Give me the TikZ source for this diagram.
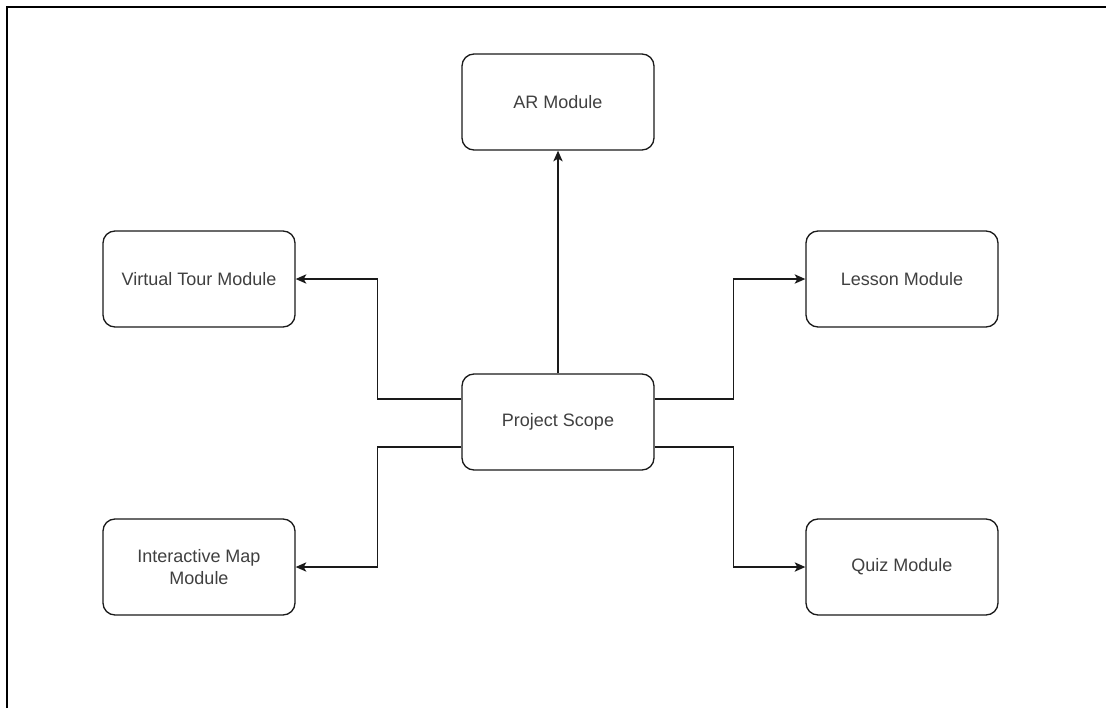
\documentclass[tikz,border=0pt]{standalone}
\usepackage{fontspec}
\setmainfont{Liberation Sans}
\usepackage{tikz}
\usetikzlibrary{positioning,calc,arrows.meta}
\definecolor{ScopeLine}{HTML}{1A1A1A}
\definecolor{ScopeText}{HTML}{404040}

\begin{document}
\begin{tikzpicture}[x=0.75pt, y=-0.75pt,
  module/.style={draw=ScopeLine, line width=1pt, rounded corners=9pt,
    minimum width=144pt, minimum height=72pt, align=center,
    font=\fontsize{13.5}{16}\selectfont, text=ScopeText, fill=white},
  link/.style={draw=ScopeLine, line width=1pt,
    -{Stealth[length=8pt,width=7pt,inset=2pt]}}]
  %% Page frame
  \useasboundingbox (0,0) rectangle (1106,708);
  \draw[black, line width=1.5pt] (7,708) -- (7,7) -- (1106,7);

  %% Modules
  \node[module] (scope) at (558,422) {Project Scope};
  \node[module] (ar)    at (558,102) {AR Module};
  \node[module] (tour)  at (199,279) {Virtual Tour Module};
  \node[module] (lesson) at (902,279) {Lesson Module};
  \node[module] (map)   at (199,567) {Interactive Map\\Module};
  \node[module] (quiz)  at (902,567) {Quiz Module};

  %% Connectors
  \draw[link] (scope.north) -- (ar.south);
  \draw[link] ($(scope.west)+(0,-23)$) -- ++(-84,0) |- (tour.east);
  \draw[link] ($(scope.west)+(0,25)$) -- ++(-84,0) |- (map.east);
  \draw[link] ($(scope.east)+(0,-23)$) -- ++(79,0) |- (lesson.west);
  \draw[link] ($(scope.east)+(0,25)$) -- ++(79,0) |- (quiz.west);
\end{tikzpicture}
\end{document}
